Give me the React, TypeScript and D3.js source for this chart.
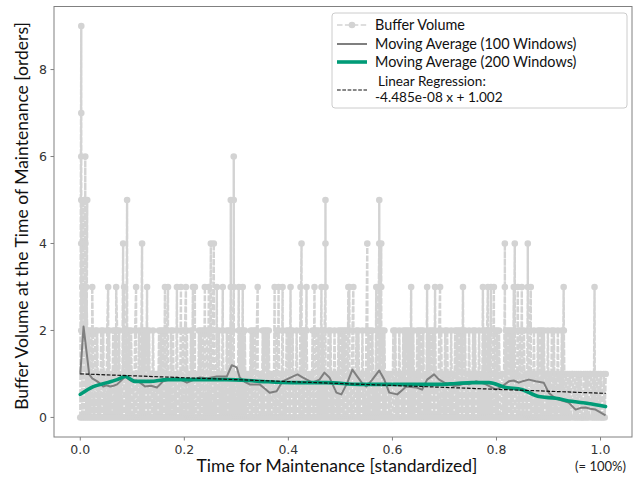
import React from 'react';
import * as d3 from 'd3';

// ---------- data ----------
const xTicks = [0, 0.2, 0.4, 0.6, 0.8, 1.0];
const yTicks = [0, 2, 4, 6, 8];
const T_END = 1.01;

// Buffer volume (base level 0/1/2), one char per sample, evenly spaced over [0, T_END]
const baseSegments = [
  '02020202',
  '02020102' + '02010202' + '01020201' + '02020202' + '01010202' + '02020102' + '01020102' + '02020201' +
    '02010102' + '02020202' + '01020201' + '02010202' + '02020102' + '01010102' + '02020202' + '02010201' +
    '02020102' + '01020202' + '02010102' + '02020201' + '01020202' + '02010102' + '02020201',
  '0101',
  '02020102' + '01020202' + '02010201' + '02020202' + '01010202' + '02020102' + '02010202' + '01020102' +
    '02020202' + '02010201' + '02020102' + '01020202' + '02010102' + '02020201',
  '01010',
  '02020102' + '01020202' + '02010201' + '02020202' + '01010202' + '02020102' + '02010202' + '01020102' +
    '02020202' + '02010201' + '02020102' + '01020202' + '02010102' + '02020',
  '01',
  '01020202' + '02010102' + '02020201' + '02020102' + '01020202' + '02010201' + '02020102' + '0102020',
  '10101011' + '01010101' + '00101010' + '11010101' + '01010010' + '1',
];

// Buffer volume peaks (values >= 3)
const spikeT = [
  0.0019, 0.0019, 0.0019, 0.0096, 0.0019, 0.0057, 0.0096, 0.0134, 0.0019, 0.0057, 0.0096, 0.0038, 0.0077, 0.0115, 0.023,
  0.0536, 0.069, 0.0824, 0.0843, 0.09, 0.1073, 0.1188, 0.1284, 0.1628, 0.1686, 0.1858, 0.1935, 0.2031, 0.2165, 0.2203,
  0.2395, 0.2471, 0.251, 0.2567, 0.2625, 0.2739, 0.2893, 0.2893, 0.295, 0.295, 0.295, 0.3046, 0.3123, 0.341, 0.3736,
  0.3812, 0.3889, 0.4042, 0.4234, 0.4253, 0.4349, 0.4502, 0.4636, 0.4713, 0.4713, 0.4713, 0.5153, 0.5172, 0.5249,
  0.5517, 0.569, 0.5747, 0.5747, 0.5785, 0.5785, 0.636, 0.6667, 0.682, 0.6916, 0.7356, 0.7739, 0.7835, 0.7893, 0.795,
  0.8161, 0.8161, 0.8333, 0.8352, 0.841, 0.8487, 0.8602, 0.8602, 0.8659, 0.9291, 0.9885,
];
const spikeV = [
  9, 7, 6, 6, 5, 5, 5, 5, 4, 4, 4, 3, 3, 3, 3,
  3, 3, 4, 3, 5, 3, 4, 3, 3, 3, 3, 3, 3, 3, 3,
  3, 3, 4, 4, 3, 3, 3, 5, 3, 5, 6, 3, 3, 3, 3,
  3, 3, 3, 3, 4, 3, 3, 3, 3, 4, 5, 3, 3, 3,
  4, 3, 4, 5, 4, 3, 3, 3, 3, 3, 3, 3, 3, 3, 3,
  3, 4, 3, 4, 3, 3, 3, 4, 3, 3, 3,
];

// Moving average (100 windows)
const ma100T = [
  0, 0.0063, 0.0172, 0.023, 0.0326, 0.038, 0.0441, 0.05, 0.0575, 0.064, 0.0709, 0.0805, 0.0862, 0.093, 0.0996, 0.107,
  0.1149, 0.1245, 0.136, 0.1475, 0.159, 0.1724, 0.1858, 0.195, 0.205, 0.217, 0.2299, 0.245, 0.2625, 0.2816, 0.2912,
  0.3008, 0.3065, 0.316, 0.3257, 0.3448, 0.355, 0.364, 0.3774, 0.3889, 0.408, 0.4176, 0.4272, 0.4464, 0.4598, 0.4693,
  0.4789, 0.4923, 0.5019, 0.5134, 0.523, 0.5326, 0.541, 0.5498, 0.5613, 0.5747, 0.5843, 0.5939, 0.6092, 0.618, 0.6264,
  0.6456, 0.6571, 0.6667, 0.6801, 0.6897, 0.7, 0.7088, 0.718, 0.728, 0.738, 0.7471, 0.7605, 0.77, 0.7797, 0.7989,
  0.8103, 0.8238, 0.833, 0.8429, 0.852, 0.8621, 0.8755, 0.8908, 0.9004, 0.91, 0.9195, 0.9387, 0.9521, 0.962, 0.9713,
  0.98, 0.9904, 1.0096,
];
const ma100V = [
  0.99, 2.09, 0.99, 0.9, 0.83, 0.78, 0.71, 0.74, 0.71, 0.73, 0.76, 0.87, 0.94, 0.88, 0.83, 0.85,
  0.8, 0.71, 0.73, 0.69, 0.83, 0.87, 0.92, 0.86, 0.8, 0.86, 0.92, 0.9, 0.94, 0.94, 1.2,
  1.15, 0.92, 0.82, 0.76, 0.76, 0.66, 0.57, 0.6, 0.83, 0.94, 0.99, 0.92, 0.8, 0.87, 1.03,
  0.92, 0.57, 0.53, 0.8, 1.1, 0.94, 0.8, 0.71, 0.87, 1.08, 0.87, 0.57, 0.53, 0.62, 0.71,
  0.69, 0.64, 0.87, 0.99, 0.87, 0.8, 0.76, 0.72, 0.74, 0.78, 0.76, 0.83, 0.8, 0.76, 0.64,
  0.71, 0.83, 0.85, 0.8, 0.84, 0.87, 0.83, 0.8, 0.57, 0.47, 0.41, 0.34, 0.18, 0.22, 0.23,
  0.2, 0.18, 0.05,
];

// Moving average (200 windows)
const ma200T = [
  0, 0.025, 0.0517, 0.0709, 0.0862, 0.1054, 0.1341, 0.1667, 0.2165, 0.2816, 0.3448, 0.408, 0.4732, 0.5364, 0.6264,
  0.6897, 0.7222, 0.7529, 0.7854, 0.818, 0.8487, 0.8812, 0.9138, 0.9444, 0.977, 1.0096,
];
const ma200V = [
  0.53, 0.71, 0.8, 0.87, 0.94, 0.83, 0.83, 0.87, 0.87, 0.87, 0.83, 0.8, 0.8, 0.76, 0.76,
  0.76, 0.78, 0.8, 0.8, 0.69, 0.64, 0.48, 0.44, 0.37, 0.32, 0.25,
];

// Linear regression: -4.485e-08 x + 1.002 over raw time span
const regSlope = -4.485e-8;
const regIntercept = 1.002;
const regRawSpan = 1.0e7;

const legendLabels = [
  'Buffer Volume',
  'Moving Average (100 Windows)',
  'Moving Average (200 Windows)',
  'Linear Regression:',
  '-4.485e-08 x + 1.002',
];

// ---------- layout ----------
const W = 640;
const H = 479;
const left = 54;
const right = 632;
const top = 6.5;
const bottom = 437;

const LIGHT = '#d3d3d3';
const MA100C = '#7f7f7f';
const MA200C = '#009b77';
const SPINE = '#808080';
const TICKTXT = '#333333';
const LABELFONT = 'Lato, "Open Sans", sans-serif';
const TICKFONT = '"DejaVu Sans", sans-serif';

export default function App() {
  const x = d3.scaleLinear().domain([-0.0505, 1.0605]).range([left, right]);
  const y = d3.scaleLinear().domain([-0.45, 9.45]).range([bottom, top]);

  const baseStr = baseSegments.join('');
  const L = baseStr.length;
  type P = { t: number; v: number; k: number };
  const pts: P[] = [];
  for (let i = 0; i < L; i++) {
    pts.push({ t: (i / (L - 1)) * T_END, v: +baseStr[i], k: i * 100 });
  }
  spikeT.forEach((t, j) => {
    const idx = Math.floor((t / T_END) * (L - 1));
    pts.push({ t, v: spikeV[j], k: idx * 100 + 1 + (j % 90) });
  });
  pts.sort((a, b) => a.k - b.k);

  const rawLine = d3
    .line<P>()
    .x((d) => x(d.t))
    .y((d) => y(d.v))(pts) as string;

  const ma100 = d3
    .line<number>()
    .x((d, i) => x(ma100T[i]))
    .y((d) => y(d))(ma100V) as string;

  const ma200 = d3
    .line<number>()
    .curve(d3.curveMonotoneX)
    .x((d, i) => x(ma200T[i]))
    .y((d) => y(d))(ma200V) as string;

  const regY0 = regIntercept;
  const regY1 = regIntercept + regSlope * regRawSpan;

  // legend geometry
  const lgX = 332;
  const lgY = 13;
  const lgW = 295;
  const lgH = 95;
  const hx0 = 337;
  const hx1 = 367;
  const tx = 375;
  const rows = [25, 44, 62];

  return (
    <div style={{ position: 'absolute', left: 0, top: 0 }}>
      <svg width={W} height={H} viewBox={`0 0 ${W} ${H}`} style={{ display: 'block', background: '#fff' }}>
        <rect x={0} y={0} width={W} height={H} fill="#fff" />
        <defs>
          <clipPath id="plotclip">
            <rect x={left} y={top} width={right - left} height={bottom - top} />
          </clipPath>
        </defs>
        <g clipPath="url(#plotclip)">
          <path d={rawLine} fill="none" stroke={LIGHT} strokeWidth={2.4} strokeDasharray="6,1.5" />
          {pts.map((p, i) => (
            <circle key={i} cx={x(p.t)} cy={y(p.v)} r={3.3} fill={LIGHT} />
          ))}
          <path d={ma100} fill="none" stroke={MA100C} strokeWidth={2} strokeLinejoin="round" />
          <path d={ma200} fill="none" stroke={MA200C} strokeWidth={3.6} strokeLinecap="round" />
          <line
            x1={x(0)}
            y1={y(regY0)}
            x2={x(T_END)}
            y2={y(regY1)}
            stroke="#111"
            strokeWidth={1.2}
            strokeDasharray="3.7,1.6"
          />
        </g>
        {/* frame */}
        <rect x={left} y={top} width={right - left} height={bottom - top} fill="none" stroke={SPINE} strokeWidth={1} />
        {/* y ticks */}
        {yTicks.map((t) => (
          <g key={'y' + t}>
            <line x1={left - 3.5} x2={left} y1={y(t)} y2={y(t)} stroke={SPINE} strokeWidth={1} />
            <text
              x={left - 7}
              y={y(t)}
              dy="0.36em"
              textAnchor="end"
              fontFamily={TICKFONT}
              fontSize={12.5}
              fill={TICKTXT}
            >
              {t}
            </text>
          </g>
        ))}
        {/* x ticks */}
        {xTicks.map((t) => (
          <g key={'x' + t}>
            <line x1={x(t)} x2={x(t)} y1={bottom} y2={bottom + 3.5} stroke={SPINE} strokeWidth={1} />
            <text
              x={x(t)}
              y={bottom + 7}
              dy="0.76em"
              textAnchor="middle"
              fontFamily={TICKFONT}
              fontSize={12.5}
              fill={TICKTXT}
            >
              {t.toFixed(1)}
            </text>
          </g>
        ))}
        <text x={x(1.0)} y={471} textAnchor="middle" fontFamily={LABELFONT} fontSize={13} fill="#222">
          (= 100%)
        </text>
        {/* axis titles */}
        <text x={337} y={472} textAnchor="middle" fontFamily={LABELFONT} fontSize={17.5} fill="#111">
          Time for Maintenance [standardized]
        </text>
        <text
          transform={`translate(28, 216) rotate(-90)`}
          textAnchor="middle"
          fontFamily={LABELFONT}
          fontSize={17.5}
          fill="#111"
        >
          Buffer Volume at the Time of Maintenance [orders]
        </text>
        {/* legend */}
        <rect x={lgX} y={lgY} width={lgW} height={lgH} rx={3} fill="#fff" fillOpacity={0.85} stroke="#cccccc" strokeWidth={1} />
        <line x1={hx0} x2={hx1} y1={rows[0]} y2={rows[0]} stroke={LIGHT} strokeWidth={1.5} strokeDasharray="5.5,2.4" />
        <circle cx={(hx0 + hx1) / 2} cy={rows[0]} r={3.3} fill={LIGHT} />
        <line x1={hx0} x2={hx1} y1={rows[1]} y2={rows[1]} stroke={MA100C} strokeWidth={2} />
        <line x1={hx0} x2={hx1} y1={rows[2]} y2={rows[2]} stroke={MA200C} strokeWidth={3.6} />
        <line x1={hx0} x2={hx1} y1={90} y2={90} stroke="#111" strokeWidth={1.2} strokeDasharray="3.7,1.6" />
        <g fontFamily={LABELFONT} fontSize={14.4} fill="#111">
          <text x={tx} y={rows[0]} dy="0.35em">{legendLabels[0]}</text>
          <text x={tx} y={rows[1]} dy="0.35em">{legendLabels[1]}</text>
          <text x={tx} y={rows[2]} dy="0.35em">{legendLabels[2]}</text>
        </g>
        <g fontFamily={LABELFONT} fontSize={13.6} fill="#111">
          <text x={tx + 3} y={82} dy="0.3em">{legendLabels[3]}</text>
          <text x={tx} y={97} dy="0.35em">{legendLabels[4]}</text>
        </g>
      </svg>
    </div>
  );
}
